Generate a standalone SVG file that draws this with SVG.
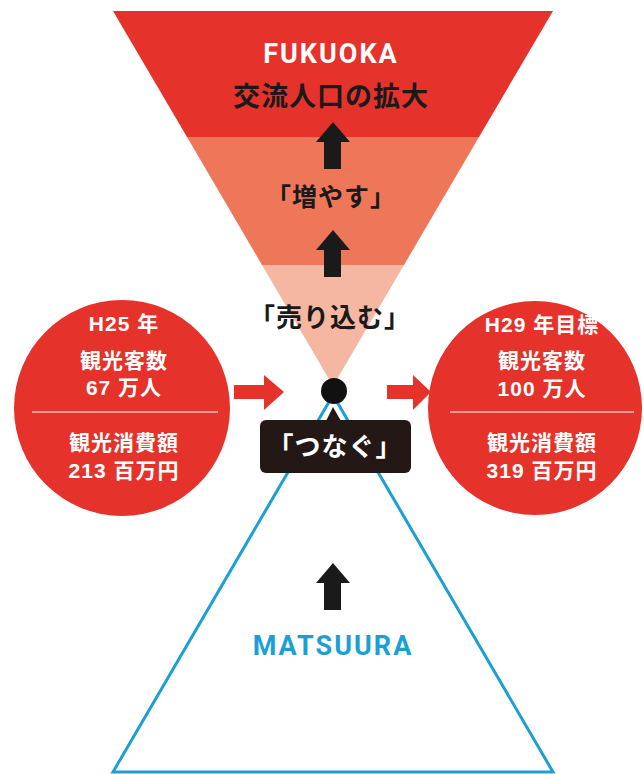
<svg xmlns="http://www.w3.org/2000/svg" width="644" height="774" viewBox="0 0 644 774">
<style>
.jp{font-family:"Liberation Sans","Noto Sans CJK JP",sans-serif;font-weight:bold;text-anchor:middle}
.cw{fill:#ffffff;font-size:21px;letter-spacing:1px}
.lat{font-family:"Roboto","Liberation Sans",sans-serif;font-weight:bold;text-anchor:middle;letter-spacing:2px}
.arr{fill:#1a1a1a}
.rarr{fill:#e5322b}
</style>
<defs>
<path id="up" d="M0,-16 L17,4 L8,4 L8,31 L-9,31 L-9,4 L-17,4 Z"/>
</defs>
<rect width="644" height="774" fill="#ffffff"/>
<g id="funnel">
<polygon points="113,11 553,11 479,137 187,137" fill="#e5322b"/>
<polygon points="187,137 479,137 404,265 262,265" fill="#ee775a"/>
<polygon points="262,265 404,265 333,386" fill="#f6b7a2"/>
</g>
<g id="pyramid">
<polygon points="333,395 113,772 553,772" fill="none" stroke="#1b9fd6" stroke-width="3"/>
</g>
<g id="connectors">
<use href="#up" x="333" y="138" class="arr"/>
<use href="#up" x="333" y="246" class="arr"/>
<use href="#up" x="333" y="579" class="arr"/>
<polygon points="234,385 264,385 264,375 284,392 264,410 264,399 234,399" class="rarr"/>
<polygon points="387,385 413,385 413,375 431,392 413,410 413,399 387,399" class="rarr"/>
</g>
<g id="fukuoka">
<text x="331" y="63" class="lat" font-size="27" fill="#ffffff" letter-spacing="3">FUKUOKA</text>
<text x="331" y="106" class="jp" font-size="27" fill="#1a1a1a" letter-spacing="1">交流人口の拡大</text>
</g>
<g id="fuyasu">
<text x="331" y="206" class="jp" font-size="25" fill="#1a1a1a" letter-spacing="1">「増やす」</text>
</g>
<g id="urikomu">
<text x="330" y="327" class="jp" font-size="26" fill="#1a1a1a" letter-spacing="1">「売り込む」</text>
</g>
<g id="dot">
<circle cx="334" cy="391" r="13" fill="#111111"/>
</g>
<g id="tsunagu">
<polygon points="326,421 341,421 333,407" fill="#231815"/>
<rect x="260" y="420" width="151" height="53" rx="6" fill="#231815"/>
<text x="335" y="456" class="jp" font-size="26" fill="#ffffff" font-weight="normal" letter-spacing="1">「つなぐ」</text>
</g>
<g id="h25">
<circle cx="122" cy="408" r="108" fill="#e5322b"/>
<text x="124" y="331" class="jp cw">H25 年</text>
<text x="124" y="368" class="jp cw">観光客数</text>
<text x="124" y="395" class="jp cw">67 万人</text>
<line x1="32" y1="412" x2="218" y2="412" stroke="#ffffff" stroke-width="1.2"/>
<text x="124" y="450" class="jp cw">観光消費額</text>
<text x="124" y="478" class="jp cw">213 百万円</text>
</g>
<g id="h29">
<circle cx="535" cy="408" r="107" fill="#e5322b"/>
<text x="542" y="332" class="jp cw">H29 年目標</text>
<text x="542" y="368" class="jp cw">観光客数</text>
<text x="542" y="396" class="jp cw">100 万人</text>
<line x1="450" y1="412" x2="634" y2="412" stroke="#ffffff" stroke-width="1.2"/>
<text x="542" y="450" class="jp cw">観光消費額</text>
<text x="542" y="478" class="jp cw">319 百万円</text>
</g>
<g id="matsuura">
<text x="333" y="655" class="lat" font-size="27" fill="#1b9fd6" letter-spacing="3">MATSUURA</text>
</g>
</svg>
